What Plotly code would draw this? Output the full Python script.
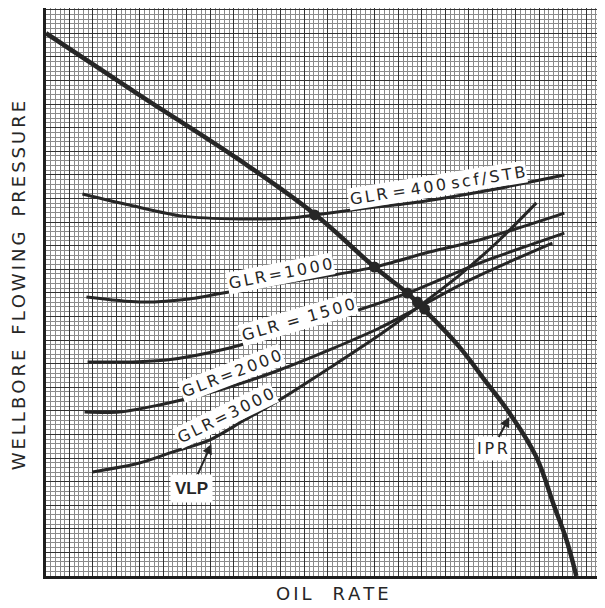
import plotly.graph_objects as go

# ---- data (arbitrary units) ----
ipr_rate = [0, 398, 823, 1143, 1398, 1538, 1602, 1760, 1866, 1972, 2085, 2164, 2215, 2257]
ipr_pwf = [2300, 2038, 1763, 1534, 1309, 1199, 1136, 970, 831, 691, 508, 292, 153, 0]

glr400_rate = [155, 355, 581, 823, 1036, 1143, 1334, 1589, 1845, 2206]
glr400_pwf = [1619, 1572, 1525, 1513, 1517, 1530, 1555, 1585, 1627, 1699]

glr1000_rate = [172, 398, 611, 823, 1036, 1219, 1398, 1632, 1845, 2206]
glr1000_pwf = [1182, 1161, 1174, 1212, 1246, 1275, 1309, 1373, 1424, 1538]

glr1500_rate = [177, 355, 513, 781, 1036, 1249, 1538, 1845, 2206]
glr1500_pwf = [907, 907, 915, 966, 1042, 1102, 1199, 1326, 1453]

glr2000_rate = [164, 313, 483, 611, 781, 994, 1206, 1419, 1589, 1802, 2155]
glr2000_pwf = [695, 695, 725, 754, 801, 873, 958, 1051, 1140, 1254, 1411]

glr3000_rate = [198, 398, 538, 696, 845, 994, 1206, 1419, 1589, 1760, 1930, 2087]
glr3000_pwf = [441, 479, 525, 576, 661, 746, 881, 1021, 1144, 1275, 1424, 1581]

op_rate = [1143, 1398, 1538, 1581, 1611]
op_pwf = [1530, 1309, 1199, 1161, 1131]

labels = ["GLR = 400 scf/STB", "GLR=1000", "GLR\u2009=\u20091500", "GLR=2000", "GLR=3000"]
label_rate = [1665, 998, 1074, 789, 764]
label_pwf = [1653, 1280, 1085, 860, 682]
label_angle = [-9, -11, -16, -21, -26]

X_MAX = 2379
Y_MAX = 2407

INK = "#262626"
SEP = "\u2006"  # six-per-em space used as letter spacing


def spaced(text, sep=SEP, word_gap=None):
    out = []
    for i, ch in enumerate(text):
        if ch == " " and word_gap is not None:
            out.append(word_gap)
            continue
        out.append(ch)
        if i < len(text) - 1 and ch != " " and text[i + 1] != " ":
            out.append(sep)
    return "".join(out)


fig = go.Figure()

for xs, ys in [(glr400_rate, glr400_pwf), (glr1000_rate, glr1000_pwf),
               (glr1500_rate, glr1500_pwf), (glr2000_rate, glr2000_pwf),
               (glr3000_rate, glr3000_pwf)]:
    fig.add_trace(go.Scatter(x=xs, y=ys, mode="lines",
                             line=dict(color=INK, width=3, shape="spline", smoothing=0.8),
                             hoverinfo="skip", showlegend=False))

fig.add_trace(go.Scatter(x=ipr_rate, y=ipr_pwf, mode="lines",
                         line=dict(color=INK, width=4.5, shape="spline", smoothing=1.1),
                         hoverinfo="skip", showlegend=False))

fig.add_trace(go.Scatter(x=op_rate, y=op_pwf, mode="markers",
                         marker=dict(color=INK, size=11),
                         hoverinfo="skip", showlegend=False))

LABEL_FONT = dict(family="DejaVu Sans", size=16, color=INK)

for t, x, y, a in zip(labels, label_rate, label_pwf, label_angle):
    fig.add_annotation(x=x, y=y, text=spaced(t), textangle=a, showarrow=False,
                       font=LABEL_FONT, bgcolor="white", borderpad=1)

fig.add_annotation(x=704, y=559, text="<b>VLP</b>", showarrow=True, ax=-20, ay=44,
                   arrowhead=2, arrowsize=1, arrowwidth=2, arrowcolor=INK,
                   font=dict(family="Liberation Sans Narrow, Liberation Sans", size=17, color=INK),
                   bgcolor="white", borderpad=4)
fig.add_annotation(x=1972, y=674, text=spaced("IPR"), showarrow=True, ax=-17, ay=32,
                   arrowhead=2, arrowsize=1, arrowwidth=2, arrowcolor=INK,
                   font=dict(family="DejaVu Sans", size=16, color=INK),
                   bgcolor="white", borderpad=2)

fig.add_annotation(xref="paper", yref="paper", x=-0.05, y=0.51,
                   xanchor="center", yanchor="middle",
                   text=spaced("WELLBORE FLOWING PRESSURE", word_gap="\u2002\u2006\u2006"),
                   textangle=-90, showarrow=False,
                   font=dict(family="DejaVu Sans", size=18, color=INK))
fig.add_annotation(xref="paper", yref="paper", x=0.512, y=-0.03,
                   xanchor="center", yanchor="middle",
                   text=spaced("OIL RATE", word_gap="\u2003\u2006"), showarrow=False,
                   font=dict(family="DejaVu Sans", size=18, color=INK))

axis_common = dict(showticklabels=False, ticks="", zeroline=False,
                   showgrid=True, gridcolor="#333333", gridwidth=1.3,
                   tick0=0, dtick=100,
                   minor=dict(dtick=20, showgrid=True, gridcolor="#8a8a8a", gridwidth=0.7),
                   showline=True, linecolor="#1e1e1e", linewidth=2.5)

fig.update_xaxes(range=[0, X_MAX], **axis_common)
fig.update_yaxes(range=[0, Y_MAX], **axis_common)

fig.update_layout(width=597, height=600,
                  margin=dict(l=38, r=0, t=0, b=32),
                  paper_bgcolor="white", plot_bgcolor="white",
                  showlegend=False)

fig.write_html("out.html")
